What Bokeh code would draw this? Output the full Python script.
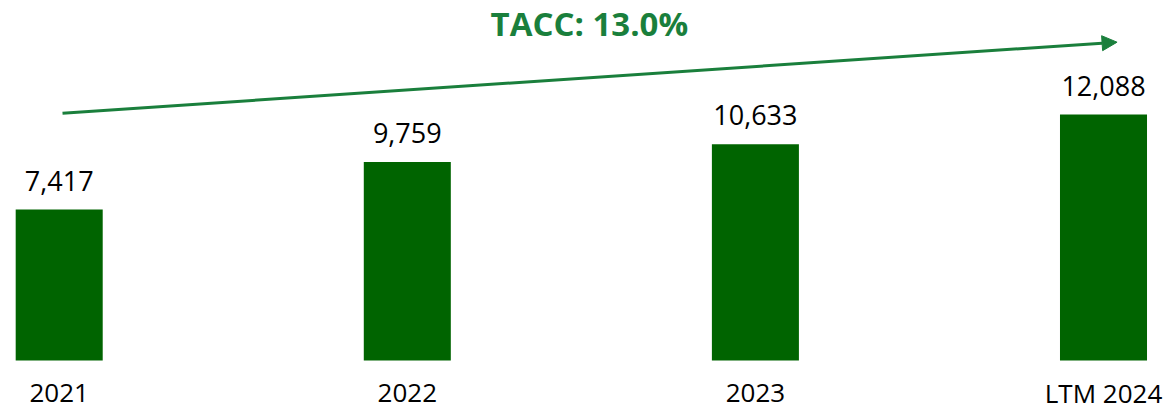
from bokeh.plotting import figure
from bokeh.models import ColumnDataSource, Range1d, Arrow, NormalHead, Label
from bokeh.core.properties import value
from bokeh.embed import file_html
from bokeh.resources import INLINE

categories = ["2021", "2022", "2023", "LTM 2024"]
values = [7417, 9759, 10633, 12088]
value_labels = ["7,417", "9,759", "10,633", "12,088"]
cagr_label = "TACC: 13.0%"

BAR = "#006400"
GREEN = "#1A7F3C"
FONT = "Open Sans"

idx = list(range(len(categories)))
src = ColumnDataSource(dict(x=idx, top=values, cat=categories, lab=value_labels,
                            zero=[0] * len(values)))

W, H = 1163, 410
px_per_unit_x = 348.1
units_per_px_y = 49.15
x0 = -58.7 / px_per_unit_x
y_zero_px = 360

p = figure(width=W, height=H, output_backend="svg", toolbar_location=None,
           x_axis_type=None, y_axis_type=None, min_border=0,
           x_range=Range1d(x0, x0 + W / px_per_unit_x),
           y_range=Range1d(-(H - y_zero_px) * units_per_px_y, y_zero_px * units_per_px_y))
p.grid.visible = False
p.outline_line_color = None
p.background_fill_color = "white"
p.border_fill_color = "white"

p.vbar(x="x", top="top", bottom=0, width=0.25, source=src,
       fill_color=BAR, line_color=None)

p.text(x="x", y="top", text="lab", source=src, y_offset=-29,
       text_align="center", text_baseline="middle",
       text_font=value(FONT), text_font_size="27px", text_color="black")

p.text(x="x", y="zero", text="cat", source=src, y_offset=32,
       text_align="center", text_baseline="middle",
       text_font=value(FONT), text_font_size="26px", text_color="black")

# growth arrow from first bar to last bar
arrow_y0 = values[0] + 4738
arrow_y1 = values[-1] + 3557
p.add_layout(Arrow(x_start=idx[0] + 0.0095, y_start=arrow_y0,
                   x_end=idx[-1] + 0.039, y_end=arrow_y1,
                   line_color=GREEN, line_width=3,
                   end=NormalHead(size=15, fill_color=GREEN, line_color=GREEN)))

p.add_layout(Label(x=(idx[0] + idx[-1]) / 2, y=H - 23, y_units="screen",
                   x_offset=8, text=cagr_label, text_align="center",
                   text_baseline="middle", text_font=FONT,
                   text_font_size="33px", text_font_style="bold",
                   text_color=GREEN))

open("out.html", "w").write(file_html(p, INLINE))
